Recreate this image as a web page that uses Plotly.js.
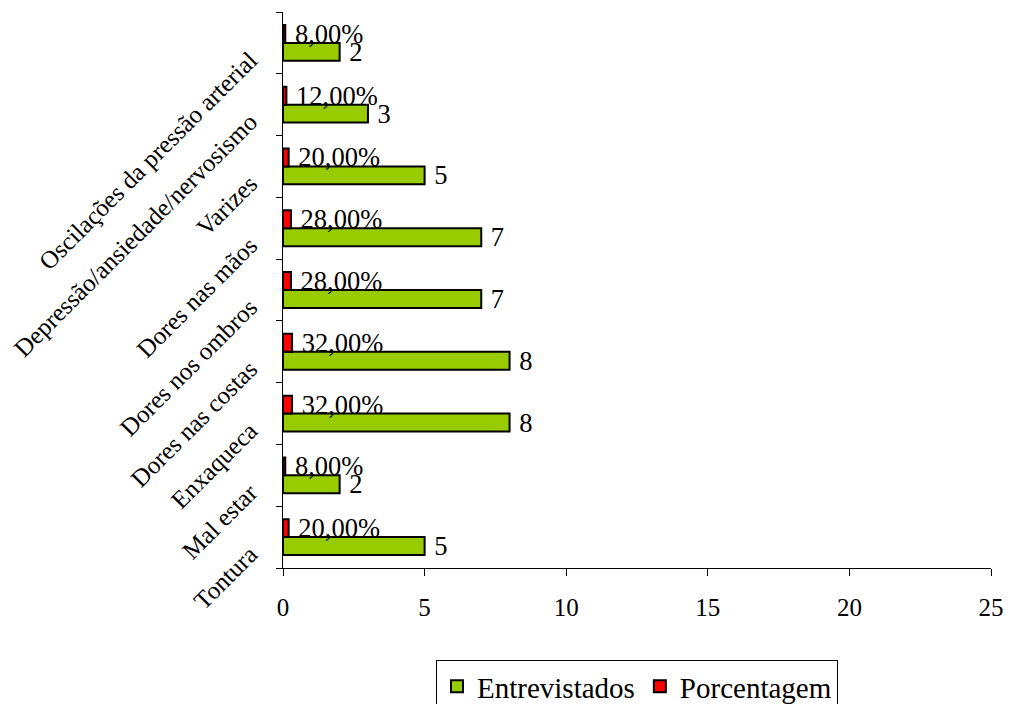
<!DOCTYPE html>
<html>
<head>
<meta charset="utf-8">
<script src="https://cdn.plot.ly/plotly-3.0.1.min.js"></script>
<style>html,body{margin:0;padding:0;background:#fff;}#chart{width:1010px;height:704px;}</style>
</head>
<body>
<div id="chart"></div>
<script>
const categories = ["Tontura", "Mal estar", "Enxaqueca", "Dores nas costas", "Dores nos ombros", "Dores nas mãos", "Varizes", "Depressão/ansiedade/nervosismo", "Oscilações da pressão arterial"];
const entrevistados = [5, 2, 8, 8, 7, 7, 5, 3, 2];
const porcentagem = [0.20, 0.08, 0.32, 0.32, 0.28, 0.28, 0.20, 0.12, 0.08];
const xTicks = [0, 5, 10, 15, 20, 25];

const GAP = '\u00a0';
const fmtPct = v => GAP + (v * 100).toFixed(2).replace('.', ',') + '%';
const FAM = "Liberation Serif";
const f = size => ({family: FAM, size: size, color: "#000"});

const traces = [
  {
    type: 'bar', orientation: 'h', name: 'Entrevistados',
    y: categories, x: entrevistados,
    text: entrevistados.map(v => GAP + v), textposition: 'outside', cliponaxis: false,
    constraintext: 'none', textfont: f(26.5),
    marker: {color: '#99CC00', line: {color: '#000', width: 2}}
  },
  {
    type: 'bar', orientation: 'h', name: 'Porcentagem',
    y: categories, x: porcentagem,
    text: porcentagem.map(fmtPct), textposition: 'outside', cliponaxis: false,
    constraintext: 'none', textfont: f(26.5),
    marker: {color: '#FF0000', line: {color: '#000', width: 2}}
  }
];

const layout = {
  width: 1010, height: 704,
  margin: {l: 283, r: 19, t: 12, b: 136},
  paper_bgcolor: '#fff', plot_bgcolor: '#fff',
  barmode: 'group', bargap: 0.42, bargroupgap: 0,
  font: f(22),
  showlegend: true,
  xaxis: {
    range: [0, 25], tickvals: xTicks, ticktext: xTicks.map(String),
    showgrid: false, zeroline: false, showline: true, linecolor: '#000', linewidth: 1,
    ticks: 'outside', ticklen: 7, tickcolor: '#000', ticklabelstandoff: 10,
    tickfont: f(25), fixedrange: true, automargin: false
  },
  yaxis: {
    type: 'category', categoryorder: 'array', categoryarray: categories,
    showgrid: false, zeroline: false, showline: true, linecolor: '#000', linewidth: 1,
    ticks: 'outside', ticklen: 6, tickcolor: '#000', tickson: 'boundaries',
    tickangle: -45, tickfont: f(25), ticklabelstandoff: 27, ticklabelshift: 14,
    fixedrange: true, automargin: false
  },
  legend: {
    orientation: 'h', xref: 'paper', x: 0.5, xanchor: 'center',
    yref: 'container', y: 1 - 660 / 704, yanchor: 'top',
    bordercolor: '#000', borderwidth: 1, font: f(29),
    traceorder: 'normal'
  }
};

Plotly.newPlot('chart', traces, layout, {displayModeBar: false, staticPlot: true});
</script>
</body>
</html>
